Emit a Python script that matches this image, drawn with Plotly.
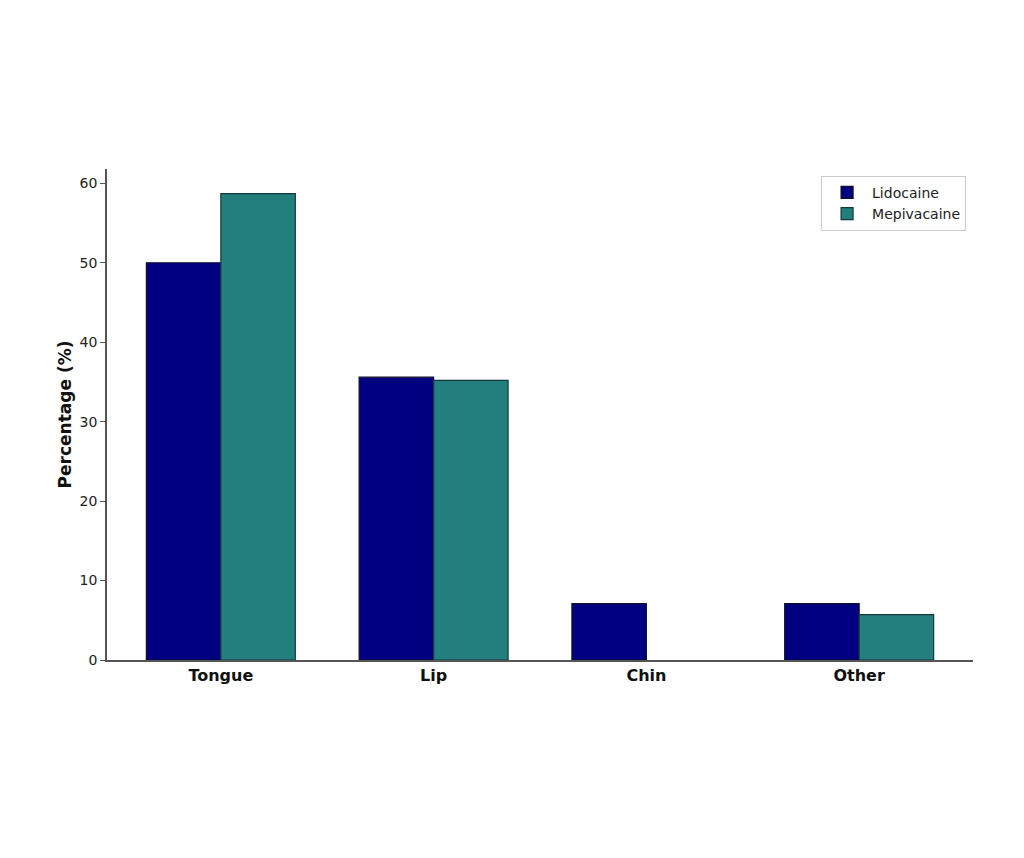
import plotly.graph_objects as go

categories = ["Tongue", "Lip", "Chin", "Other"]
lidocaine = [50.0, 35.6, 7.1, 7.1]
mepivacaine = [58.7, 35.2, 0.0, 5.7]
y_ticks = [0, 10, 20, 30, 40, 50, 60]

xpos = list(range(len(categories)))
w = 0.35

def edge_widths(vals):
    return [1.2 if v > 0 else 0 for v in vals]

fig = go.Figure()
fig.add_trace(go.Bar(x=xpos, y=lidocaine, name="Lidocaine", width=w, offset=-w,
                     marker=dict(color="#000080", line=dict(color="#10102a", width=edge_widths(lidocaine)))))
fig.add_trace(go.Bar(x=xpos, y=mepivacaine, name="Mepivacaine", width=w, offset=0,
                     marker=dict(color="#237f7e", line=dict(color="#123a3a", width=edge_widths(mepivacaine)))))

fig.update_layout(
    width=1024, height=858,
    margin=dict(l=107, r=51, t=169, b=198),
    plot_bgcolor="white", paper_bgcolor="white",
    font=dict(family="DejaVu Sans", color="#222222", size=14),
    barmode="overlay",
    showlegend=True,
    legend=dict(x=0.992, y=0.986, xanchor="right", yanchor="top",
                bordercolor="#cccccc", borderwidth=1, bgcolor="white",
                font=dict(size=14, color="#222222"), itemwidth=40, tracegroupgap=2),
    xaxis=dict(range=[-0.535, 3.535], tickvals=xpos, ticktext=["<b>%s</b>" % c for c in categories],
               showgrid=False, zeroline=False, showline=True, linecolor="#555555", linewidth=1.5,
               ticks="", tickfont=dict(size=16, color="#111111")),
    yaxis=dict(range=[0, 61.8], tickvals=y_ticks, showgrid=False, zeroline=False,
               showline=True, linecolor="#555555", linewidth=1.5,
               ticks="outside", ticklen=5, tickcolor="#555555",
               tickfont=dict(size=14, color="#222222"),
               title=dict(text="<b>Percentage (%)</b>", font=dict(size=17, color="#111111"), standoff=4)),
)

fig.write_html("out.html")
